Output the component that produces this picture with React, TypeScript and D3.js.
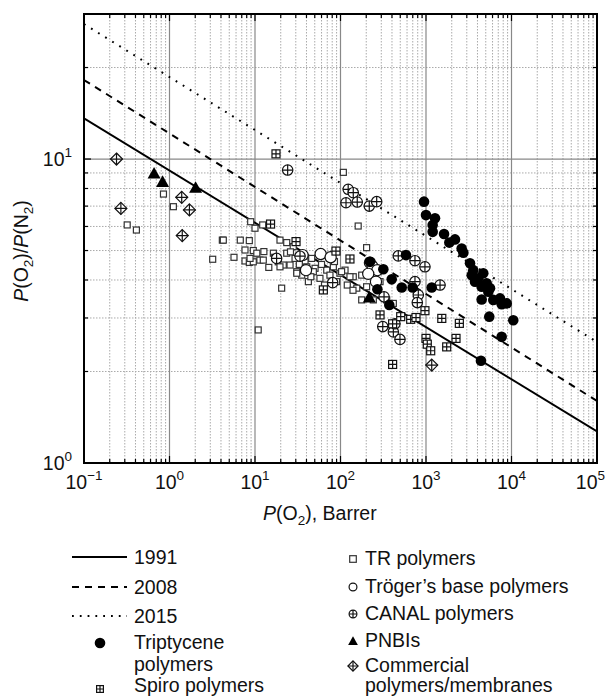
import React from 'react';
import { scaleLog, line } from 'd3';

// upper bounds: [P(O2), selectivity] at both ends of the plotted range
const bound1991: [number, number][] = [[0.1, 13.6], [1e5, 1.27]];
const bound2008: [number, number][] = [[0.1, 18.2], [1e5, 1.6]];
const bound2015: [number, number][] = [[0.1, 27.8], [1e5, 2.5]];

const trPolymers: [number, number][] = [
  [0.32, 6.07], [0.41, 5.84], [0.85, 7.67], [1.11, 6.97], [3.2, 4.68], [4.15, 5.41], [4.26, 5.41],
  [5.68, 4.75], [6.73, 5.41], [8.58, 5.39], [7.64, 5.02], [7.64, 4.62], [8.58, 4.57], [9.55, 5.0],
  [8.9, 6.22], [10, 5.92], [12.3, 6.07], [10.9, 2.74], [20.5, 3.76], [19.6, 5.41], [23.5, 5.31],
  [11.4, 4.65], [12.7, 4.96], [9.55, 4.59], [16.4, 4.9], [18.7, 4.59], [21.4, 4.48], [25.7, 4.48],
  [29.4, 4.71], [30.8, 4.26], [35.2, 4.15], [42.1, 3.95], [108, 9.04], [161, 6.02], [28, 5.15],
  [23.5, 4.9], [38.5, 4.59], [46, 4.71], [50.4, 4.37], [69, 4.31], [82.5, 4.42], [98.6, 4.21],
  [113, 4.31], [141, 4.1], [30.8, 4.21], [19.6, 4.42], [12.5, 4.65], [10.5, 4.9], [8.75, 4.71],
  [36.7, 4.83], [40.3, 4.42], [48.1, 4.26], [57.5, 4.05], [75.3, 4.15], [90, 3.95], [103, 4.26],
  [129, 4.1], [155, 3.76], [177, 4.15], [202, 3.8], [177, 3.44], [242, 3.44], [202, 5.11],
  [290, 3.95], [347, 3.44], [415, 3.35], [14.5, 4.4], [17, 4.75], [26, 4.95], [33, 4.5], [45, 4.1],
  [60, 4.5], [65, 3.85], [85, 4.6], [120, 3.85], [140, 3.7],
];
const trogerBase: [number, number][] = [
  [36, 4.83], [39.5, 4.31], [58.6, 4.87], [76.7, 4.75], [221, 4.56], [238, 4.42], [270, 4.31],
  [211, 4.19], [260, 3.95],
];
const canalPolymers: [number, number][] = [
  [24.1, 9.2], [123, 7.95], [141, 7.75], [116, 7.18], [157, 7.22], [217, 7.0], [265, 7.24],
  [474, 4.8], [743, 4.63], [972, 4.42], [743, 3.95], [813, 3.57], [791, 3.37], [1460, 3.85],
  [323, 3.52], [312, 2.81], [415, 2.7], [496, 2.55], [433, 2.87], [81, 3.92], [17.9, 4.71], [33.6, 4.79],
];
const spiroPolymers: [number, number][] = [
  [17.6, 10.4], [15.2, 6.11], [30.2, 5.35], [88.5, 4.98], [129, 4.69], [63, 3.71], [290, 3.07],
  [407, 2.87], [506, 3.03], [662, 2.97], [764, 3.01], [972, 3.17], [1530, 2.99], [2455, 2.88],
  [1000, 2.57], [1035, 2.46], [1135, 2.34], [1746, 2.41], [2244, 2.57], [407, 2.11],
];
const triptycene: [number, number][] = [
  [948, 7.24], [1000, 6.54], [1274, 6.38], [1197, 6.07], [1197, 5.76], [1626, 5.67], [1875, 5.31],
  [2183, 5.44], [2612, 5.08], [2735, 4.92], [3273, 4.54], [3573, 4.31], [3424, 4.15], [4093, 4.05],
  [3741, 3.95], [4677, 4.21], [4477, 3.8], [5124, 3.9], [5356, 3.66], [5610, 3.76], [4477, 3.45],
  [6124, 3.44], [7342, 3.48], [7674, 3.33], [8790, 3.35], [5497, 3.03], [7674, 2.6], [10490, 2.95],
  [4395, 2.17], [221, 4.59], [317, 4.34], [397, 4.02], [270, 3.73], [520, 3.78], [698, 3.78],
  [583, 4.83], [1167, 3.78], [372, 3.31],
];
const pnbis: [number, number][] = [[0.66, 8.97], [0.83, 8.42], [2.02, 8.05], [217, 3.51]];
const commercial: [number, number][] = [
  [0.24, 10.0], [0.27, 6.88], [1.39, 7.48], [1.71, 6.8], [1.41, 5.6], [1167, 2.1],
];

const xTickExps = [-1, 0, 1, 2, 3, 4, 5];
const yTickExps = [0, 1];

const W = 608;
const H = 698;
const L = 84, R = 597, T = 14, B = 463;
const FONT = '"Liberation Sans", Arial, sans-serif';

const x = scaleLog().domain([0.1, 1e5]).range([L, R]);
const y = scaleLog().domain([1, 30]).range([B, T]);

const xMinor: number[] = [];
for (let e = -1; e < 5; e++) for (let m = 2; m <= 9; m++) xMinor.push(m * Math.pow(10, e));
const yMinor = [2, 3, 4, 5, 6, 7, 8, 9, 20];

const lineGen = line<[number, number]>().x((d) => x(d[0])).y((d) => y(d[1]));

type MarkerKind = 'square' | 'circle' | 'canal' | 'spiro' | 'dot' | 'triangle' | 'diamond';

const Marker = ({ kind, cx, cy, s = 1 }: { kind: MarkerKind; cx: number; cy: number; s?: number }) => {
  const sw = 1.2;
  if (kind === 'square') {
    const h = 3 * s;
    return <rect x={cx - h} y={cy - h} width={2 * h} height={2 * h} fill="#fff" stroke="#333" strokeWidth={sw} />;
  }
  if (kind === 'circle') {
    return <circle cx={cx} cy={cy} r={5.6 * s} fill="#fff" stroke="#111" strokeWidth={sw} />;
  }
  if (kind === 'canal') {
    const r = 5.2 * s;
    return (
      <g stroke="#111" strokeWidth={sw}>
        <circle cx={cx} cy={cy} r={r} fill="#fff" />
        <path d={`M${cx - r},${cy}H${cx + r}M${cx},${cy - r}V${cy + r}`} fill="none" />
      </g>
    );
  }
  if (kind === 'spiro') {
    const h = 4 * s;
    return (
      <g stroke="#111" strokeWidth={sw}>
        <rect x={cx - h} y={cy - h} width={2 * h} height={2 * h} fill="#fff" />
        <path d={`M${cx - h},${cy}H${cx + h}M${cx},${cy - h}V${cy + h}`} fill="none" />
      </g>
    );
  }
  if (kind === 'dot') {
    return <circle cx={cx} cy={cy} r={5.3 * s} fill="#000" />;
  }
  if (kind === 'triangle') {
    const h = 6.5 * s;
    return <path d={`M${cx},${cy - h}L${cx + h},${cy + h * 0.8}L${cx - h},${cy + h * 0.8}Z`} fill="#000" />;
  }
  const h = 6 * s;
  return (
    <g stroke="#111" strokeWidth={sw}>
      <path d={`M${cx},${cy - h}L${cx + h},${cy}L${cx},${cy + h}L${cx - h},${cy}Z`} fill="#fff" />
      <path d={`M${cx - h},${cy}H${cx + h}M${cx},${cy - h}V${cy + h}`} fill="none" />
    </g>
  );
};

const Points = ({ data, kind }: { data: [number, number][]; kind: MarkerKind }) => (
  <g>
    {data.map((d, i) => (
      <Marker key={i} kind={kind} cx={x(d[0])} cy={y(d[1])} />
    ))}
  </g>
);

const legendLeft = [
  { label: '1991', dash: 'none', y: 557 },
  { label: '2008', dash: '7,6', y: 587 },
  { label: '2015', dash: '1.8,6', y: 616 },
];
const legendRight: { label: string; kind: MarkerKind; y: number; s: number }[] = [
  { label: 'TR polymers', kind: 'square', y: 558, s: 1.1 },
  { label: 'Tröger’s base polymers', kind: 'circle', y: 586, s: 0.7 },
  { label: 'CANAL polymers', kind: 'canal', y: 613, s: 0.75 },
  { label: 'PNBIs', kind: 'triangle', y: 640, s: 0.75 },
  { label: 'Commercial', kind: 'diamond', y: 665, s: 0.85 },
];

export default function App() {
  return (
    <svg width={W} height={H} style={{ position: 'absolute', left: 0, top: 0, background: '#fff' }} fontFamily={FONT}>
      <defs>
        <clipPath id="plot">
          <rect x={L} y={T} width={R - L} height={B - T} />
        </clipPath>
      </defs>
      <rect x={0} y={0} width={W} height={H} fill="#fff" />

      {/* grid */}
      <g stroke="#aaa" strokeWidth={1} strokeDasharray="1.5,1.5">
        {xMinor.map((v) => (
          <line key={'xm' + v} x1={x(v)} x2={x(v)} y1={T} y2={B} />
        ))}
        {yMinor.map((v) => (
          <line key={'ym' + v} x1={L} x2={R} y1={y(v)} y2={y(v)} />
        ))}
      </g>
      <g stroke="#888" strokeWidth={1.2}>
        {xTickExps.slice(1, -1).map((e) => (
          <line key={'xM' + e} x1={x(Math.pow(10, e))} x2={x(Math.pow(10, e))} y1={T} y2={B} />
        ))}
        <line x1={L} x2={R} y1={y(10)} y2={y(10)} />
      </g>

      {/* upper bounds */}
      <g clipPath="url(#plot)" fill="none" stroke="#000">
        <path d={lineGen(bound1991) || ''} strokeWidth={2} />
        <path d={lineGen(bound2008) || ''} strokeWidth={2} strokeDasharray="7,6" />
        <path d={lineGen(bound2015) || ''} strokeWidth={2} strokeDasharray="1.8,6.5" />
      </g>

      {/* data */}
      <Points data={trPolymers} kind="square" />
      <Points data={trogerBase} kind="circle" />
      <Points data={canalPolymers} kind="canal" />
      <Points data={spiroPolymers} kind="spiro" />
      <Points data={triptycene} kind="dot" />
      <Points data={pnbis} kind="triangle" />
      <Points data={commercial} kind="diamond" />

      {/* frame + ticks */}
      <rect x={L} y={T} width={R - L} height={B - T} fill="none" stroke="#000" strokeWidth={2} />
      <g stroke="#000" strokeWidth={1.2}>
        {xMinor.map((v) => (
          <g key={'xt' + v}>
            <line x1={x(v)} x2={x(v)} y1={B} y2={B - 4} />
            <line x1={x(v)} x2={x(v)} y1={T} y2={T + 4} />
          </g>
        ))}
        {xTickExps.map((e) => (
          <g key={'xT' + e}>
            <line x1={x(Math.pow(10, e))} x2={x(Math.pow(10, e))} y1={B} y2={B - 7} />
            <line x1={x(Math.pow(10, e))} x2={x(Math.pow(10, e))} y1={T} y2={T + 7} />
          </g>
        ))}
        {yMinor.map((v) => (
          <g key={'yt' + v}>
            <line x1={L} x2={L + 4} y1={y(v)} y2={y(v)} />
            <line x1={R} x2={R - 4} y1={y(v)} y2={y(v)} />
          </g>
        ))}
        {yTickExps.map((e) => (
          <g key={'yT' + e}>
            <line x1={L} x2={L + 7} y1={y(Math.pow(10, e))} y2={y(Math.pow(10, e))} />
            <line x1={R} x2={R - 7} y1={y(Math.pow(10, e))} y2={y(Math.pow(10, e))} />
          </g>
        ))}
      </g>

      {/* tick labels */}
      <g fontSize={19.5} fill="#111">
        {xTickExps.map((e, i) => {
          const last = i === xTickExps.length - 1;
          return (
            <text
              key={'xl' + e}
              x={last ? W - 3 : x(Math.pow(10, e))}
              y={489}
              textAnchor={last ? 'end' : 'middle'}
            >
              10
              <tspan dy={-9} fontSize={13.5}>
                {e < 0 ? '\u2212' + Math.abs(e) : e}
              </tspan>
            </text>
          );
        })}
        {yTickExps.map((e) => (
          <text key={'yl' + e} x={72} y={y(Math.pow(10, e)) + 7} textAnchor="end">
            10
            <tspan dy={-9} fontSize={13.5}>
              {e}
            </tspan>
          </text>
        ))}
      </g>

      {/* axis titles */}
      <text x={263} y={520} fontSize={19.5} fill="#111">
        <tspan fontStyle="italic">P</tspan>(O
        <tspan dy={5} fontSize={13.5}>2</tspan>
        <tspan dy={-5}>), Barrer</tspan>
      </text>
      <text transform="translate(28,251) rotate(-90)" textAnchor="middle" fontSize={19.5} fill="#111">
        <tspan fontStyle="italic">P</tspan>(O
        <tspan dy={5} fontSize={13.5}>2</tspan>
        <tspan dy={-5}>)/</tspan>
        <tspan fontStyle="italic">P</tspan>(N
        <tspan dy={5} fontSize={13.5}>2</tspan>
        <tspan dy={-5}>)</tspan>
      </text>

      {/* legend */}
      <g fontSize={19.5} fill="#111">
        {legendLeft.map((d) => (
          <g key={d.label}>
            <line x1={72} x2={127} y1={d.y} y2={d.y} stroke="#000" strokeWidth={2} strokeDasharray={d.dash} />
            <text x={134} y={d.y} dominantBaseline="central">
              {d.label}
            </text>
          </g>
        ))}
        <Marker kind="dot" cx={100} cy={643} />
        <text x={134} y={642} dominantBaseline="central">Triptycene</text>
        <text x={134} y={664} dominantBaseline="central">polymers</text>
        <Marker kind="spiro" cx={100} cy={689} s={0.85} />
        <text x={134} y={685} dominantBaseline="central">Spiro polymers</text>

        {legendRight.map((d) => (
          <g key={d.label}>
            <Marker kind={d.kind} cx={353} cy={d.y + 1} s={d.s} />
            <text x={365} y={d.y} dominantBaseline="central">
              {d.label}
            </text>
          </g>
        ))}
        <text x={365} y={685} dominantBaseline="central">polymers/membranes</text>
      </g>
    </svg>
  );
}
